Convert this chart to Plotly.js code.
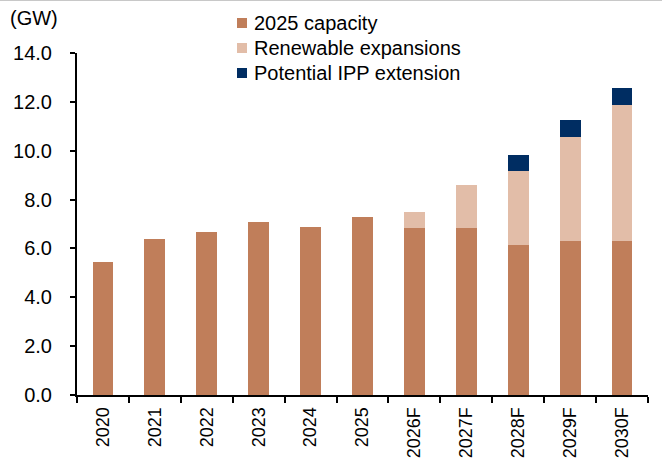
<!DOCTYPE html>
<html>
<head>
<meta charset="utf-8">
<script src="https://cdn.plot.ly/plotly-3.0.1.min.js"></script>
<style>html,body{margin:0;padding:0;background:#fff;}#chart{width:662px;height:464px;}</style>
</head>
<body>
<div id="chart"></div>
<script>
const categories = ["2020","2021","2022","2023","2024","2025","2026F","2027F","2028F","2029F","2030F"];
const capacity2025 = [5.45, 6.39, 6.68, 7.09, 6.87, 7.27, 6.84, 6.84, 6.16, 6.31, 6.29];
const renewableExp = [0, 0, 0, 0, 0, 0, 0.66, 1.77, 3.0, 4.27, 5.58];
const ippExtension = [0, 0, 0, 0, 0, 0, 0, 0, 0.65, 0.68, 0.70];
const seriesNames = ["2025 capacity", "Renewable expansions", "Potential IPP extension"];
const yTicks = [0, 2, 4, 6, 8, 10, 12, 14];

const colors = ["#C07E5A", "#E2BDA8", "#002D62"];
const font = "Arial, 'Liberation Sans', sans-serif";

const traces = [capacity2025, renewableExp, ippExtension].map((vals, i) => ({
  type: "bar",
  name: seriesNames[i],
  x: categories,
  y: vals,
  marker: {color: colors[i], line: {width: 0}},
  hoverinfo: "x+y+name"
}));

// Legend drawn as paper-anchored swatches + text (keeps plot area margins fixed)
const legendX = 0.289, legendTextX = 0.306;
const legendYs = [1.0877, 1.0146, 0.9415];
const legendShapes = seriesNames.map((n, i) => ({
  type: "rect", xref: "paper", yref: "paper",
  xsizemode: "pixel", ysizemode: "pixel",
  xanchor: legendX, yanchor: legendYs[i],
  x0: -5, x1: 5, y0: -5, y1: 5,
  fillcolor: colors[i], line: {width: 0}
}));
const legendAnns = seriesNames.map((n, i) => ({
  text: n, xref: "paper", yref: "paper", x: legendTextX, y: legendYs[i],
  xanchor: "left", yanchor: "middle", showarrow: false,
  font: {family: font, size: 20, color: "#000"}
}));

const layout = {
  width: 662, height: 464,
  margin: {l: 77, r: 14, t: 53, b: 69},
  paper_bgcolor: "#fff", plot_bgcolor: "#fff",
  barmode: "stack",
  bargap: 0.6,
  font: {family: font, size: 20, color: "#000"},
  showlegend: false,
  xaxis: {
    type: "category",
    showline: true, linecolor: "#000", linewidth: 2,
    ticks: "outside", tickson: "boundaries", ticklen: 6, tickwidth: 2, tickcolor: "#000",
    tickangle: -90,
    ticklabelstandoff: 3,
    tickfont: {family: font, size: 18, color: "#000"},
    showgrid: false, zeroline: false, automargin: false,
    fixedrange: true
  },
  yaxis: {
    range: [0, 14],
    tickvals: yTicks,
    ticktext: yTicks.map(v => v.toFixed(1)),
    showline: true, linecolor: "#000", linewidth: 2,
    ticks: "outside", ticklen: 5, tickwidth: 2, tickcolor: "#000",
    tickfont: {family: font, size: 20, color: "#000"},
    ticklabelstandoff: 14,
    showgrid: false, zeroline: false, automargin: false,
    fixedrange: true
  },
  annotations: [{
    text: "(GW)", xref: "paper", yref: "paper", x: -0.12, y: 1.102,
    xanchor: "left", yanchor: "middle", showarrow: false,
    font: {family: font, size: 20, color: "#000"}
  }].concat(legendAnns),
  shapes: [{
    type: "line", xref: "paper", yref: "paper", x0: -0.2, x1: 1.1, y0: 1.1535, y1: 1.1535,
    line: {color: "#c8c8c8", width: 1}
  }].concat(legendShapes)
};

Plotly.newPlot("chart", traces, layout, {displayModeBar: false, staticPlot: true});
</script>
</body>
</html>
